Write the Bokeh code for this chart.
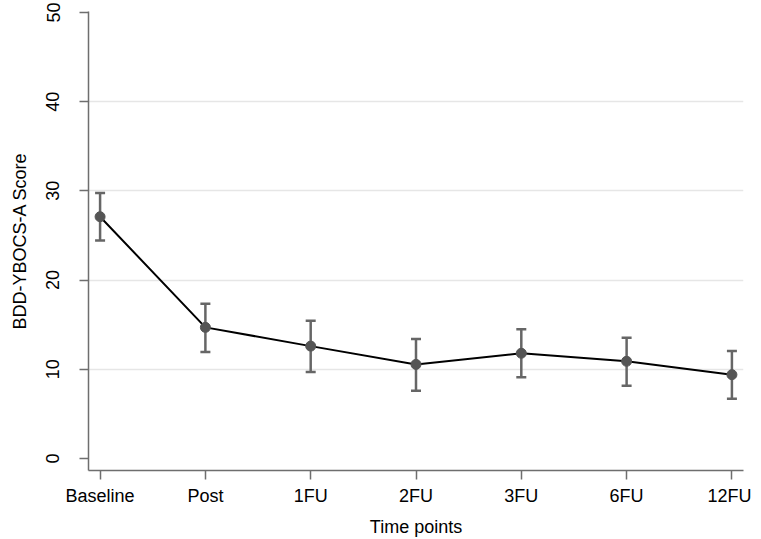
from bokeh.plotting import figure
from bokeh.models import Range1d, FixedTicker, ColumnDataSource, Whisker, TeeHead
from bokeh.embed import file_html
from bokeh.resources import INLINE

categories = ["Baseline", "Post", "1FU", "2FU", "3FU", "6FU", "12FU"]
means = [27.1, 14.7, 12.6, 10.55, 11.8, 10.9, 9.4]
upper = [29.75, 17.35, 15.45, 13.4, 14.5, 13.55, 12.05]
lower = [24.45, 11.95, 9.7, 7.6, 9.1, 8.15, 6.7]
y_ticks = [0, 10, 20, 30, 40, 50]

xs = list(range(len(categories)))
src = ColumnDataSource(dict(x=xs, m=means, up=upper, lo=lower))

FONT = "Liberation Sans"

p = figure(width=745, height=523, output_backend="svg", toolbar_location=None,
           x_range=Range1d(-0.11, len(categories) - 1 + 0.11),
           y_range=Range1d(-1.34, 50.1),
           min_border_left=88, min_border_right=8, min_border_top=11, min_border_bottom=50)
p.frame_width = 655
p.frame_height = 459
p.outline_line_color = None
p.background_fill_color = "white"
p.border_fill_color = "white"

p.xgrid.grid_line_color = None
p.ygrid.grid_line_color = "#e6e6e6"
p.ygrid.grid_line_width = 1.5
p.ygrid.ticker = FixedTicker(ticks=[10, 20, 30, 40])

# axes
p.xaxis.ticker = FixedTicker(ticks=xs)
p.xaxis.major_label_overrides = {i: c for i, c in enumerate(categories)}
p.yaxis.ticker = FixedTicker(ticks=y_ticks)
for ax in (p.xaxis[0], p.yaxis[0]):
    ax.axis_line_color = "#6e6e6e"
    ax.axis_line_width = 1.5
    ax.major_tick_line_color = "#6e6e6e"
    ax.major_tick_line_width = 1.5
    ax.major_tick_out = 9
    ax.major_tick_in = 0
    ax.minor_tick_line_color = None
    ax.major_label_text_font = FONT
    ax.major_label_text_font_size = "18px"
    ax.major_label_text_color = "black"
    ax.axis_label_text_font = FONT
    ax.axis_label_text_font_size = "18px"
    ax.axis_label_text_font_style = "normal"
    ax.axis_label_text_color = "black"

p.xaxis.axis_label = "Time points"
p.xaxis.major_label_standoff = 6
p.xaxis.axis_label_standoff = 8
p.yaxis.axis_label = "BDD-YBOCS-A Score"
p.yaxis.major_label_orientation = "vertical"
p.yaxis.major_label_standoff = 20
p.yaxis.axis_label_standoff = 14

# error bars
w = Whisker(source=src, base="x", upper="up", lower="lo",
            line_color="#666666", line_width=2.5,
            upper_head=TeeHead(size=10, line_color="#666666", line_width=2.5),
            lower_head=TeeHead(size=10, line_color="#666666", line_width=2.5))
p.add_layout(w)

p.line("x", "m", source=src, line_color="black", line_width=2)
p.scatter("x", "m", source=src, size=10, fill_color="#555555", line_color="#555555")

open("out.html", "w").write(file_html(p, INLINE))
